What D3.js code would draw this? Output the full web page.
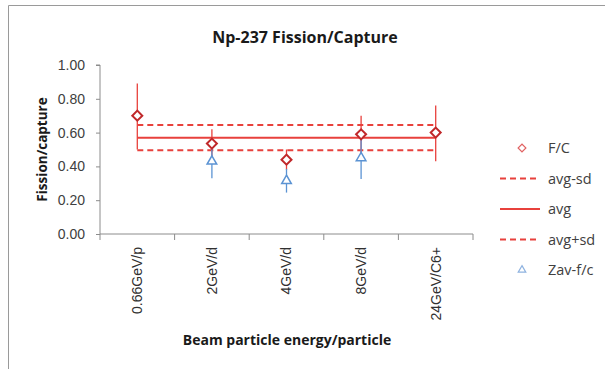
<!DOCTYPE html>
<html>
<head>
<meta charset="utf-8">
<script src="https://cdn.jsdelivr.net/npm/d3@7"></script>
<style>
  body { margin: 0; background: #fff; }
  svg { font-family: "Open Sans", "Liberation Sans", sans-serif; }
</style>
</head>
<body>
<svg width="605" height="369"></svg>
<script>
// data
const categories = ["0.66GeV/p", "2GeV/d", "4GeV/d", "8GeV/d", "24GeV/C6+"];
const fc = [0.70, 0.535, 0.44, 0.59, 0.60];
const fcLow = [0.50, 0.45, 0.38, 0.48, 0.43];
const fcHigh = [0.89, 0.62, 0.50, 0.70, 0.76];
const zavCats = ["2GeV/d", "4GeV/d", "8GeV/d"];
const zav = [0.43, 0.315, 0.45];
const zavLow = [0.33, 0.245, 0.325];
const zavHigh = [0.53, 0.385, 0.575];
const avg = 0.57;
const avgMinusSd = 0.495;
const avgPlusSd = 0.645;
const yTicks = [0, 0.2, 0.4, 0.6, 0.8, 1.0];

const svg = d3.select("svg");
const red = "#e8413c";
const darkRed = "#c0282a";
const blue = "#5b93d3";
const axisGray = "#8c8c8c";

// outer frame (top and left edges only visible)
svg.append("line").attr("x1", 8.5).attr("x2", 605).attr("y1", 5.5).attr("y2", 5.5)
    .attr("stroke", "#9a9a9a");
svg.append("line").attr("x1", 8.5).attr("x2", 8.5).attr("y1", 5.5).attr("y2", 369)
    .attr("stroke", "#9a9a9a");

const x = d3.scaleBand().domain(categories).range([100, 473]);
const y = d3.scaleLinear().domain([0, 1]).range([234, 65]);
const cx = d => x(d) + x.bandwidth() / 2;

// title
svg.append("text").attr("x", 305).attr("y", 43).attr("text-anchor", "middle")
    .attr("font-size", 16).attr("font-weight", "bold").attr("fill", "#1a1a1a")
    .text("Np-237 Fission/Capture");

// y axis
const yAxis = svg.append("g").attr("transform", "translate(100,0)")
    .call(d3.axisLeft(y).tickValues(yTicks).tickFormat(d3.format(".2f")).tickSize(4).tickPadding(11));
yAxis.select(".domain").attr("stroke", axisGray).attr("d", `M-4,${y(1)}H0V${y(0)}`);
yAxis.selectAll(".tick line").attr("stroke", axisGray);
yAxis.selectAll(".tick text").attr("font-size", 14).attr("fill", "#404040");

// x axis
const xAxis = svg.append("g").attr("transform", `translate(0,${y(0)})`)
    .call(d3.axisBottom(x).tickSize(0).tickPadding(0));
xAxis.select(".domain").attr("stroke", axisGray).attr("d", `M${x.range()[0]},0H${x.range()[1]}`);
xAxis.selectAll(".tick text")
    .attr("transform", "rotate(-90)")
    .attr("text-anchor", "end")
    .attr("x", -13).attr("y", 0).attr("dy", "0.35em")
    .attr("font-size", 14).attr("fill", "#303030");
const bounds = categories.map(d => x(d)).concat([x.range()[1]]);
xAxis.selectAll(".btick").data(bounds).enter().append("line")
    .attr("x1", d => d).attr("x2", d => d).attr("y1", 0).attr("y2", 6)
    .attr("stroke", axisGray);

// axis titles
svg.append("text").attr("transform", `translate(47,${(y(0) + y(1)) / 2}) rotate(-90)`)
    .attr("text-anchor", "middle").attr("font-size", 13.5).attr("font-weight", "bold")
    .attr("fill", "#1a1a1a").text("Fission/capture");
svg.append("text").attr("x", 287).attr("y", 345).attr("text-anchor", "middle")
    .attr("font-size", 14).attr("font-weight", "bold").attr("fill", "#1a1a1a")
    .text("Beam particle energy/particle");

// average lines
const x0 = cx(categories[0]), x1 = cx(categories[categories.length - 1]);
const hlines = [
  { v: avgMinusSd, dash: "6,4" },
  { v: avg, dash: null },
  { v: avgPlusSd, dash: "6,4" }
];
svg.selectAll(".hline").data(hlines).enter().append("line")
    .attr("x1", x0).attr("x2", x1)
    .attr("y1", d => y(d.v)).attr("y2", d => y(d.v))
    .attr("stroke", red).attr("stroke-width", 2)
    .attr("stroke-dasharray", d => d.dash);

// F/C error bars
const fcData = categories.map((c, i) => ({ c, v: fc[i], lo: fcLow[i], hi: fcHigh[i] }));
svg.selectAll(".fcerr").data(fcData).enter().append("line")
    .attr("x1", d => cx(d.c)).attr("x2", d => cx(d.c))
    .attr("y1", d => y(d.lo)).attr("y2", d => y(d.hi))
    .attr("stroke", red).attr("stroke-width", 1.3);

// Zav error bars + markers
const zavData = zavCats.map((c, i) => ({ c, v: zav[i], lo: zavLow[i], hi: zavHigh[i] }));
svg.selectAll(".zerr").data(zavData).enter().append("line")
    .attr("x1", d => cx(d.c)).attr("x2", d => cx(d.c))
    .attr("y1", d => y(d.lo)).attr("y2", d => y(d.hi))
    .attr("stroke", blue).attr("stroke-width", 1.3);
const tri = d3.symbol().type(d3.symbolTriangle).size(40);
svg.selectAll(".zav").data(zavData).enter().append("path")
    .attr("d", tri)
    .attr("transform", d => `translate(${cx(d.c)},${y(d.v)})`)
    .attr("fill", "#fff").attr("stroke", blue).attr("stroke-width", 1.5);

// F/C markers on top
const diamond = d3.symbol().type(d3.symbolSquare).size(50);
svg.selectAll(".fc").data(fcData).enter().append("path")
    .attr("d", diamond)
    .attr("transform", d => `translate(${cx(d.c)},${y(d.v)}) rotate(45)`)
    .attr("fill", "#fff").attr("stroke", darkRed).attr("stroke-width", 2);

// legend
const legend = [
  { label: "F/C", type: "diamond" },
  { label: "avg-sd", type: "dash" },
  { label: "avg", type: "solid" },
  { label: "avg+sd", type: "dash" },
  { label: "Zav-f/c", type: "tri" }
];
const lg = svg.selectAll(".lg").data(legend).enter().append("g")
    .attr("transform", (d, i) => `translate(500,${148 + i * 30.5})`);
lg.filter(d => d.type === "dash" || d.type === "solid").append("line")
    .attr("x1", 0).attr("x2", 40).attr("y1", 0).attr("y2", 0)
    .attr("stroke", red).attr("stroke-width", 2)
    .attr("stroke-dasharray", d => d.type === "dash" ? "6,4" : null);
lg.filter(d => d.type === "diamond").append("path")
    .attr("d", d3.symbol().type(d3.symbolSquare).size(30))
    .attr("transform", "translate(22,0) rotate(45)")
    .attr("fill", "#fff").attr("stroke", "#e06060").attr("stroke-width", 1.2);
lg.filter(d => d.type === "tri").append("path")
    .attr("d", d3.symbol().type(d3.symbolTriangle).size(25))
    .attr("transform", "translate(22,0)")
    .attr("fill", "#fff").attr("stroke", "#8fb3e0").attr("stroke-width", 1.2);
lg.append("text").attr("x", 48)
    .attr("y", 0).attr("dy", "0.35em")
    .attr("font-size", 14.5).attr("fill", "#404040").text(d => d.label);
</script>
</body>
</html>
